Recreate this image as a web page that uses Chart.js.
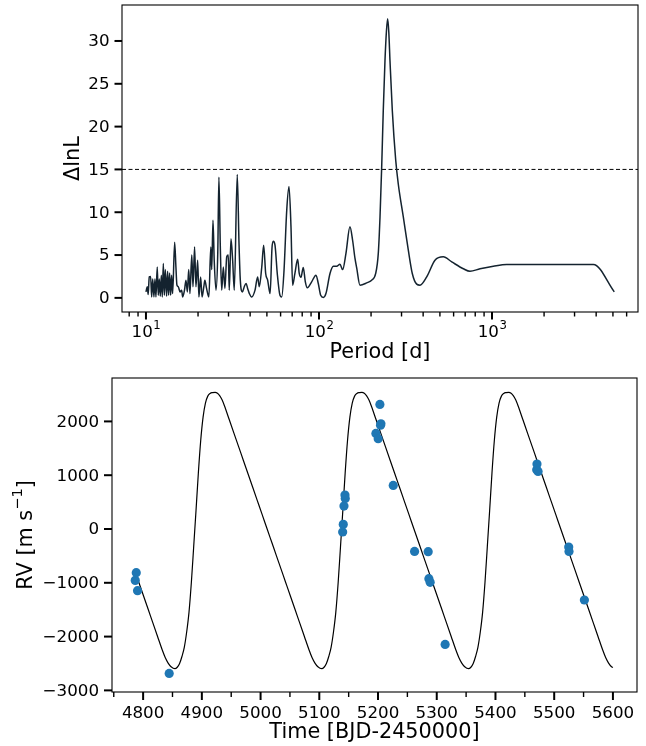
<!DOCTYPE html>
<html>
<head>
<meta charset="utf-8">
<script src="https://cdn.jsdelivr.net/npm/chart.js@4.4.1/dist/chart.umd.min.js"></script>
<style>
  body { margin: 0; background: #fff; }
  #wrap { position: relative; width: 646px; height: 746px; }
  #top { position: absolute; left: 0; top: 0; }
  #bottom { position: absolute; left: 0; top: 370px; }
</style>
</head>
<body>
<div id="wrap">
  <canvas id="top" width="646" height="370"></canvas>
  <canvas id="bottom" width="646" height="376"></canvas>
</div>
<script>
// ---- periodogram (top panel) ----
const period = [10.0, 10.18, 10.3, 10.45, 10.64, 10.79, 10.94, 11.12, 11.27, 11.42, 11.62, 11.78, 11.94, 12.1,
  12.27, 12.43, 12.6, 12.77, 12.94, 13.16, 13.34, 13.52, 13.7, 13.89, 14.07, 14.26, 14.65, 14.9, 15.1, 15.38,
  15.73, 16.08, 16.3, 16.7, 17.03, 17.35, 17.67, 17.96, 18.4, 18.7, 19.1, 19.45, 19.9, 20.23, 20.7, 21.1, 21.6,
  21.9, 22.4, 23.1, 23.7, 24.0, 24.4, 24.8, 25.4, 26.0, 26.4, 26.9, 27.4, 28.0, 28.6, 29.3, 29.9, 30.3, 31.0,
  31.7, 32.4, 33.7, 34.5, 35.1, 36.1, 37.0, 37.9, 38.7, 39.6, 40.8, 42.7, 44.2, 45.2, 46.7, 47.9, 49.2, 50.5,
  51.6, 52.2, 53.5, 54.4, 55.7, 57.4, 59.5, 60.9, 62.8, 65.1, 67.1, 68.9, 70.4, 72.6, 75.3, 76.9, 78.7, 81.1,
  83.4, 85.6, 90.7, 96.1, 99.1, 102.3, 106, 109.7, 115.8, 121.1, 126.6, 132.2, 137, 143.2, 151, 156.5, 161.5,
  165.2, 172.6, 188.7, 201.6, 212.7, 220.2, 225.3, 230.4, 235.3, 240.7, 245.5, 249.5, 253.3, 257.3, 265.3,
  277.6, 287.3, 307.2, 328.2, 346.2, 367.1, 383.6, 419.4, 468.2, 523, 585, 683, 746, 853, 1018, 1216, 2000,
  3855, 5090];
const dlnl = [0.7, 1.3, 0.4, 2.45, 2.5, 0.1, 2.2, 0.1, 2.2, 0.1, 3.6, 0.3, 2.2, 0.2,
  2.65, 0.1, 4.0, 0.3, 3.3, 0.2, 3.1, 0.3, 2.9, 0.3, 2.65, 0.5, 6.5, 3.6, 1.5, 1.3,
  0.7, 0.9, 0.1, 0.9, 2.07, 0.7, 3.3, 0.5, 5.0, 1.3, 5.95, 1.3, 4.4, 0.1, 2.45, 0.1, 1.3,
  2.07, 1.1, 0.1, 5.95, 3.3, 9.07, 4.4, 0.9, 5.2, 14.1, 5.95, 0.9, 3.6, 1.1, 4.8, 5.0, 0.9, 6.9,
  4.4, 0.9, 14.4, 6.35, 2.07, 0.7, 1.3, 1.68, 1.1, 0.5, 0.1, 0.9, 2.45, 1.3, 3.6, 6.15, 2.85, 2.07,
  0.9, 0.5, 5.8, 6.6, 6.15, 2.85, 0.3, 0.1, 3.2, 10.2, 13.0, 8.3, 1.48, 2.85, 4.5, 2.85, 2.4, 3.55,
  1.87, 1.17, 1.87, 2.65, 1.68, 0.3, 0.05, 0.5, 2.85, 3.7, 3.7, 3.93, 3.3, 5.2, 8.3, 6.7, 4.6,
  3.5, 1.48, 1.75, 2.07, 2.85, 5.2, 9.45, 15.3, 21.9, 27.7, 31.2, 32.6, 31.0, 27.7, 21.9,
  16.1, 13.3, 9.45, 5.6, 2.85, 1.6, 1.48, 2.45, 4.4, 4.8, 4.2, 3.4, 3.1, 3.4, 3.7, 3.9, 3.9,
  3.9, 0.7];
const threshold = 15;

// ---- radial velocities (bottom panel) ----
const rvTime = [4786.6, 4788.3, 4790.5, 4844.4, 5139.8, 5140.8, 5142.0, 5144.2, 5143.7, 5196.4, 5200.3,
  5203.2, 5204.9, 5204.3, 5225.9, 5262.2, 5285.4, 5286.6, 5288.8, 5314.3, 5470.2, 5470.7, 5472.5,
  5524.7, 5525.2, 5551.4];
const rvValue = [-955, -812, -1147, -2684, -56, 86, 427, 569, 632, 1777, 1678,
  2316, 1957, 1930, 810, -416, -422, -924, -992, -2145, 1102, 1208, 1071,
  -335, -416, -1320];

// orbit model
const modelTime = [4787, 4792.6, 4800.6, 4808.6, 4816.6, 4824.6, 4832.6, 4837.6, 4842.6, 4847.6, 4854.1,
  4858.1, 4862.1, 4866.1, 4870.1, 4874.1, 4878.1, 4882.1, 4886.1, 4890.1, 4894.1, 4898.1, 4902.1, 4906.1, 4910.1, 4914.1, 4918.1, 4922.6,
  4926.6, 4930.6, 4934.6, 4938.6, 4946.6, 4954.6, 4962.6, 4970.6, 4978.6, 4986.6, 4994.6, 5002.6, 5010.6, 5018.6, 5026.6, 5034.6, 5042.6, 5050.6, 5058.6, 5066.6, 5074.6, 5082.6, 5087.6, 5092.6, 5097.6, 5104.1,
  5108.1, 5112.1, 5116.1, 5120.1, 5124.1, 5128.1, 5132.1, 5136.1, 5140.1, 5144.1, 5148.1, 5152.1, 5156.1, 5160.1, 5164.1, 5168.1, 5172.6,
  5176.6, 5180.6, 5184.6, 5188.6, 5196.6, 5204.6, 5212.6, 5220.6, 5228.6, 5236.6, 5244.6, 5252.6, 5260.6, 5268.6, 5276.6, 5284.6, 5292.6, 5300.6, 5308.6, 5316.6, 5324.6, 5332.6, 5337.6, 5342.6, 5347.6, 5354.1,
  5358.1, 5362.1, 5366.1, 5370.1, 5374.1, 5378.1, 5382.1, 5386.1, 5390.1, 5394.1, 5398.1, 5402.1, 5406.1, 5410.1, 5414.1, 5418.1, 5422.6,
  5426.6, 5430.6, 5434.6, 5438.6, 5446.6, 5454.6, 5462.6, 5470.6, 5478.6, 5486.6, 5494.6, 5502.6, 5510.6, 5518.6, 5526.6, 5534.6, 5542.6, 5550.6, 5558.6, 5566.6, 5574.6, 5582.6, 5587.6, 5592.6, 5597.6, 5600];
const modelRV = [-813, -989, -1241, -1493, -1745, -1997, -2249, -2389, -2492, -2560, -2597,
  -2570, -2500, -2370, -2200, -1920, -1550, -1000, -330, 350, 1050, 1650, 2080, 2340, 2470, 2520, 2535, 2539,
  2523, 2476, 2397, 2287, 2035, 1783, 1531, 1279, 1027, 775, 523, 271, 19, -233, -485, -737, -989, -1241, -1493, -1745, -1997, -2249, -2389, -2492, -2560, -2597,
  -2570, -2500, -2370, -2200, -1920, -1550, -1000, -330, 350, 1050, 1650, 2080, 2340, 2470, 2520, 2535, 2539,
  2523, 2476, 2397, 2287, 2035, 1783, 1531, 1279, 1027, 775, 523, 271, 19, -233, -485, -737, -989, -1241, -1493, -1745, -1997, -2249, -2389, -2492, -2560, -2597,
  -2570, -2500, -2370, -2200, -1920, -1550, -1000, -330, 350, 1050, 1650, 2080, 2340, 2470, 2520, 2535, 2539,
  2523, 2476, 2397, 2287, 2035, 1783, 1531, 1279, 1027, 775, 523, 271, 19, -233, -485, -737, -989, -1241, -1493, -1745, -1997, -2249, -2389, -2492, -2560, -2575];

// ---- ticks ----
const topYTicks = [0, 5, 10, 15, 20, 25, 30];
const topXMajor = [10, 100, 1000];
const topXMinor = [8, 9, 20, 30, 40, 50, 60, 70, 80, 90, 200, 300, 400, 500, 600, 700, 800, 900, 2000, 3000, 4000, 5000, 6000];
const botYTicks = [-3000, -2000, -1000, 0, 1000, 2000];
const botXMajor = [4800, 4900, 5000, 5100, 5200, 5300, 5400, 5500, 5600];
const botXMinor = [4750, 4850, 4950, 5050, 5150, 5250, 5350, 5450, 5550];

const FONT = '"DejaVu Sans", sans-serif';
const TICK_PX = 16.7;
const LABEL_PX = 20.8;

function minus(v) {
  return String(v).replace('-', '\u2212');
}

// draws frame, tick marks, tick labels and axis titles
function axesPlugin(o) {
  return {
    id: 'axesDraw',
    afterDraw(chart) {
      const ctx = chart.ctx, a = chart.chartArea;
      const xs = chart.scales.x, ys = chart.scales.y;
      ctx.save();
      ctx.strokeStyle = '#000';
      ctx.fillStyle = '#000';
      ctx.lineWidth = 1.1;
      ctx.strokeRect(a.left, a.top, a.right - a.left, a.bottom - a.top);

      function tick(x1, y1, x2, y2, w) {
        ctx.lineWidth = w;
        ctx.beginPath();
        ctx.moveTo(x1, y1);
        ctx.lineTo(x2, y2);
        ctx.stroke();
      }
      ctx.font = TICK_PX + 'px ' + FONT;
      // y ticks
      ctx.textAlign = 'right';
      ctx.textBaseline = 'middle';
      o.yTicks.forEach(v => {
        const y = ys.getPixelForValue(v);
        tick(a.left - o.majorLen, y, a.left, y, 2);
        ctx.fillText(minus(v), a.left - o.majorLen - 5, y + 1);
      });
      // x ticks
      o.xMinor.forEach(v => {
        const x = xs.getPixelForValue(v);
        tick(x, a.bottom, x, a.bottom + o.minorLen, 1.4);
      });
      ctx.textBaseline = 'top';
      o.xMajor.forEach(v => {
        const x = xs.getPixelForValue(v);
        tick(x, a.bottom, x, a.bottom + o.majorLen, 2);
        if (o.logLabels) {
          const ly = a.bottom + o.majorLen + 1;
          const exp = String(Math.round(Math.log10(v)));
          ctx.font = TICK_PX + 'px ' + FONT;
          const wb = ctx.measureText('10').width;
          ctx.font = (TICK_PX * 0.7) + 'px ' + FONT;
          const we = ctx.measureText(exp).width;
          const x0 = x - (wb + we) / 2;
          ctx.textAlign = 'left';
          ctx.font = TICK_PX + 'px ' + FONT;
          ctx.fillText('10', x0, ly + 4);
          ctx.font = (TICK_PX * 0.7) + 'px ' + FONT;
          ctx.fillText(exp, x0 + wb + 0.5, ly);
        } else {
          ctx.textAlign = 'center';
          ctx.fillText(minus(v), x, a.bottom + o.majorLen + 5);
        }
      });

      // axis titles
      ctx.font = LABEL_PX + 'px ' + FONT;
      ctx.textAlign = 'center';
      ctx.textBaseline = 'middle';
      ctx.fillText(o.xTitle, (a.left + a.right) / 2, o.xTitleY);

      ctx.save();
      ctx.translate(o.yTitleX, (a.top + a.bottom) / 2);
      ctx.rotate(-Math.PI / 2);
      ctx.textAlign = 'left';
      ctx.textBaseline = 'middle';
      let total = 0;
      o.yTitle.forEach(p => {
        ctx.font = (p.sup ? LABEL_PX * 0.7 : LABEL_PX) + 'px ' + FONT;
        total += ctx.measureText(p.t).width;
      });
      let cx = -total / 2;
      o.yTitle.forEach(p => {
        ctx.font = (p.sup ? LABEL_PX * 0.7 : LABEL_PX) + 'px ' + FONT;
        ctx.fillText(p.t, cx, p.sup ? -8 : 0);
        cx += ctx.measureText(p.t).width;
      });
      ctx.restore();
      ctx.restore();
    }
  };
}

const hiddenScale = {
  grid: { display: false },
  border: { display: false },
  ticks: { display: false }
};

// top: likelihood periodogram
new Chart(document.getElementById('top'), {
  type: 'line',
  data: {
    datasets: [{
      data: period.map((p, i) => ({ x: p, y: dlnl[i] })),
      borderColor: '#14232f',
      borderWidth: 1.5,
      borderJoinStyle: 'round',
      pointRadius: 0,
      cubicInterpolationMode: 'monotone'
    }, {
      data: [{ x: 7.27, y: threshold }, { x: 6980, y: threshold }],
      borderColor: '#000',
      borderWidth: 1,
      borderDash: [4, 2.5],
      pointRadius: 0
    }]
  },
  options: {
    responsive: false,
    animation: false,
    layout: { padding: { left: 0, top: 5, right: 8, bottom: 0 } },
    plugins: { legend: { display: false }, tooltip: { enabled: false } },
    scales: {
      x: { type: 'logarithmic', min: 7.27, max: 6980, bounds: 'data', ...hiddenScale,
        afterFit(s) { s.height = 58; } },
      y: { type: 'linear', min: -1.65, max: 34.2, ...hiddenScale,
        afterFit(s) { s.width = 122; } }
    }
  },
  plugins: [axesPlugin({
    yTicks: topYTicks, xMajor: topXMajor, xMinor: topXMinor,
    majorLen: 7.5, minorLen: 4.5, logLabels: true,
    xTitle: 'Period [d]', xTitleY: 353,
    yTitle: [{ t: '\u0394lnL' }], yTitleX: 74
  })]
});

// bottom: RV data with fitted orbit
new Chart(document.getElementById('bottom'), {
  type: 'scatter',
  data: {
    datasets: [{
      type: 'line',
      data: modelTime.map((t, i) => ({ x: t, y: modelRV[i] })),
      borderColor: '#000',
      borderWidth: 1.2,
      pointRadius: 0,
      cubicInterpolationMode: 'monotone',
      order: 2
    }, {
      type: 'scatter',
      data: rvTime.map((t, i) => ({ x: t, y: rvValue[i] })),
      backgroundColor: '#1f77b4',
      borderWidth: 0,
      pointRadius: 4.6,
      order: 1
    }]
  },
  options: {
    responsive: false,
    animation: false,
    layout: { padding: { left: 0, top: 8, right: 9, bottom: 0 } },
    plugins: { legend: { display: false }, tooltip: { enabled: false } },
    scales: {
      x: { type: 'linear', min: 4747, max: 5641, ...hiddenScale,
        afterFit(s) { s.height = 54; } },
      y: { type: 'linear', min: -3030, max: 2807, ...hiddenScale,
        afterFit(s) { s.width = 112; } }
    }
  },
  plugins: [axesPlugin({
    yTicks: botYTicks, xMajor: botXMajor, xMinor: botXMinor,
    majorLen: 8, minorLen: 5, logLabels: false,
    xTitle: 'Time [BJD-2450000]', xTitleY: 363,
    yTitle: [{ t: 'RV [m s' }, { t: '\u22121', sup: true }, { t: ']' }], yTitleX: 26.5
  })]
});
</script>
</body>
</html>
